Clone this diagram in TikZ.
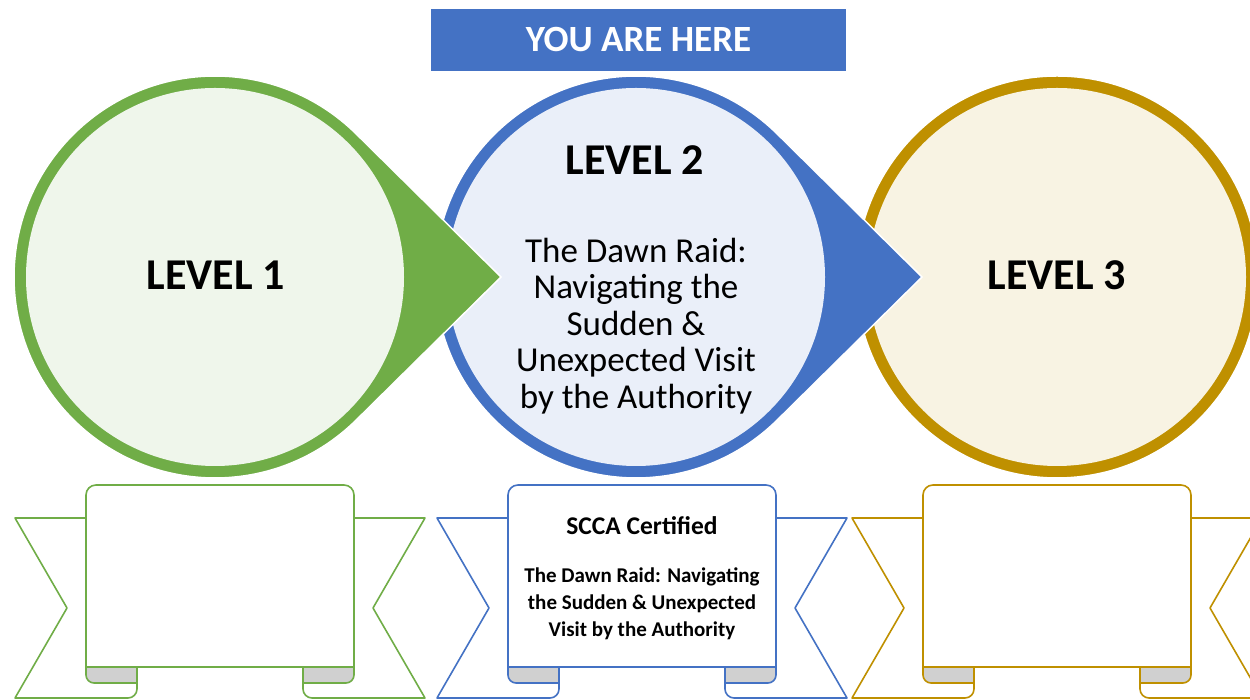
\documentclass[tikz,border=0pt]{standalone}
\usepackage{fontspec}
\setmainfont{Carlito}
\definecolor{grn}{HTML}{70AD47}
\definecolor{blu}{HTML}{4472C4}
\definecolor{gld}{HTML}{BF9000}
\definecolor{foldgrey}{HTML}{D0D0D0}

\begin{document}
\begin{tikzpicture}
  [x=1pt,y=1pt,every node/.style={inner sep=0pt},
   pin/.style={fill=#1,draw=white,line width=1.5pt},
   face/.style={circle,fill=#1!11,minimum size=378pt},
   ribbon/.style={draw=#1,line width=1.6pt,fill=white,line join=round},
   lvl/.style={font=\bfseries\fontsize{44}{53}\selectfont,anchor=base}]
  \clip (0,0) rectangle (1250,700);

  % last circle has no pointer
  \draw[pin=gld] (1057,423) circle[radius=201];
  \node[face=gld] (c3) at (1057,423) {};
  % circles with pointers
  \foreach \n/\cx/\col in {2/636/blu,1/215/grn}{
    \draw[pin=\col] (\cx+286,423) -- ([shift={(\cx,423)}]45.35:201)
      arc[start angle=45.35,end angle=314.65,radius=201] -- cycle;
    \node[face=\col] (c\n) at (\cx,423) {};
  }

  % ribbons
  \foreach \n/\cx/\col in {1/220/grn,2/642/blu,3/1057/gld}{
    \begin{scope}[shift={(\cx,0)}]
      \draw[ribbon=\col] (-134,182) -- (-205,182) -- (-153,92) -- (-205,2) -- (-92,2) to[out=0,in=-90] (-83,11) -- (-83,33);
      \draw[ribbon=\col] (134,182) -- (205,182) -- (153,92) -- (205,2) -- (92,2) to[out=180,in=-90] (83,11) -- (83,33);
      \draw[ribbon=\col,fill=foldgrey] (-134,33) -- (-134,25) to[out=-90,in=180] (-126,17) -- (-83,17) -- (-83,33) -- cycle;
      \draw[ribbon=\col,fill=foldgrey] (134,33) -- (134,25) to[out=-90,in=0] (126,17) -- (83,17) -- (83,33) -- cycle;
      \draw[ribbon=\col] (-134,33) -- (-134,205) arc[start angle=180,end angle=90,radius=10]
        -- (124,215) arc[start angle=90,end angle=0,radius=10] -- (134,33) -- cycle;
    \end{scope}
  }

  \node[fill=blu,minimum width=415pt,minimum height=62pt,text=white,
        font=\bfseries\fontsize{37}{44}\selectfont] (here) at (638.5,660) {YOU ARE HERE};

  \node[lvl] (t1) at (216,410) {LEVEL 1};
  \node[lvl] (t2) at (635,525) {LEVEL 2};
  \node[lvl] (t3) at (1057,410) {LEVEL 3};
  \node[align=center,font=\fontsize{35}{36.6}\selectfont] (d2) at (636,374)
    {The Dawn Raid:\\Navigating the\\Sudden \&\\Unexpected Visit\\by the Authority};

  \node[font=\bfseries\fontsize{25.5}{30}\selectfont,anchor=base] (cert) at (642,165) {SCCA Certified};
  \node[align=center,font=\bfseries\fontsize{21}{27}\selectfont] (course) at (642,96)
    {The Dawn Raid: Navigating\\the Sudden \& Unexpected\\Visit by the Authority};
\end{tikzpicture}
\end{document}
